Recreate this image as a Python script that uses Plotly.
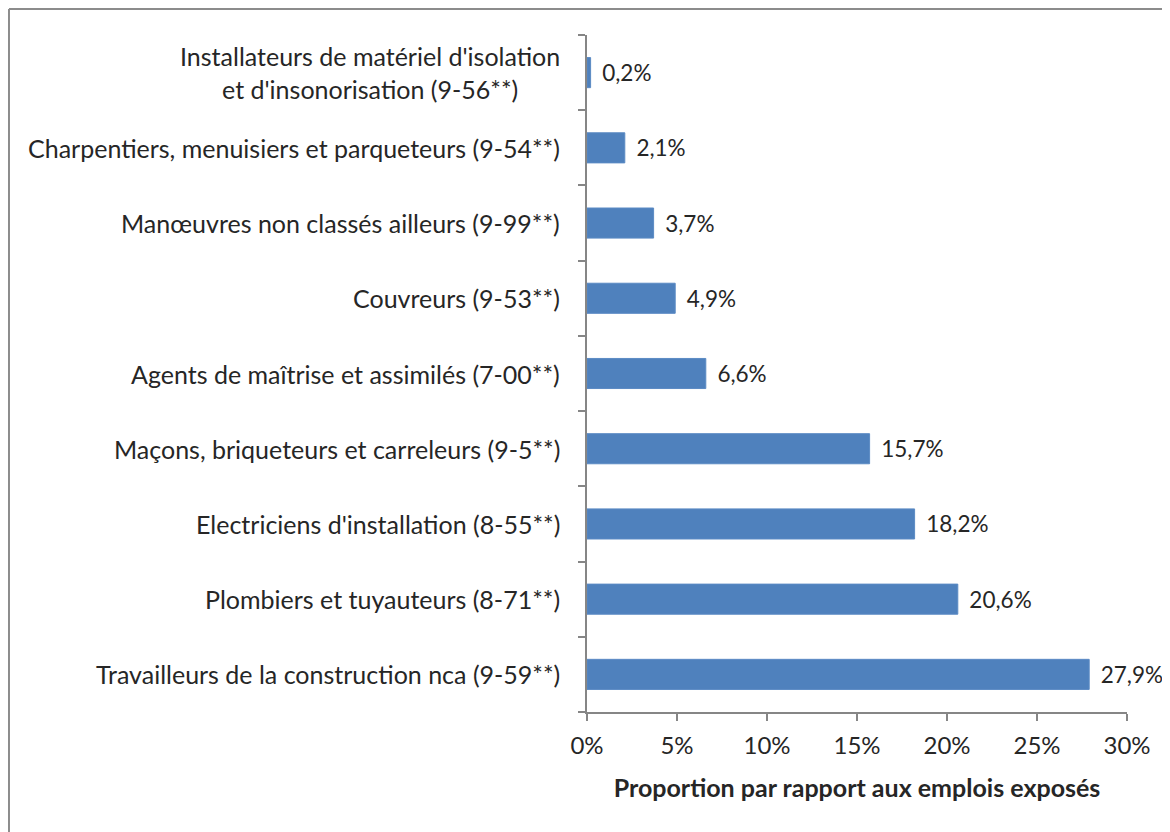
import plotly.graph_objects as go

# categories listed bottom to top, as plotly draws them
categories = [
    "Travailleurs de la construction nca (9-59**)",
    "Plombiers et tuyauteurs (8-71**)",
    "Electriciens d'installation (8-55**)",
    "Maçons, briqueteurs et carreleurs (9-5**)",
    "Agents de maîtrise et assimilés (7-00**)",
    "Couvreurs (9-53**)",
    "Manœuvres non classés ailleurs (9-99**)",
    "Charpentiers, menuisiers et parqueteurs (9-54**)",
    "Installateurs de matériel d'isolation<br>et d'insonorisation (9-56**)",
]
values = [0.279, 0.206, 0.182, 0.157, 0.066, 0.049, 0.037, 0.021, 0.002]
x_ticks = [0, 0.05, 0.10, 0.15, 0.20, 0.25, 0.30]

FONT = "Lato"
TEXT = "#262626"
AXIS = "#868686"

fig = go.Figure(go.Bar(
    x=values,
    y=categories,
    orientation="h",
    width=0.4,
    marker=dict(color="#4F81BD", line=dict(color="#5B8AC4", width=1)),
    texttemplate="\u00a0\u2009%{x:.1%}",
    textposition="outside",
    constraintext="none",
    cliponaxis=False,
    textfont=dict(family=FONT, size=22.5, color=TEXT),
))

# category labels as annotations so two-line labels are centred
for cat in categories:
    fig.add_annotation(x=0, xref="paper", y=cat, yref="y", text=cat,
                       xanchor="right", xshift=-25, align="center",
                       showarrow=False, font=dict(family=FONT, size=25, color=TEXT))

fig.update_xaxes(range=[0, 0.30], tickvals=x_ticks, tickformat=".0%",
                 showline=True, linecolor=AXIS, linewidth=1.5,
                 ticks="outside", ticklen=7, tickcolor=AXIS, tickwidth=1.5,
                 ticklabelstandoff=4,
                 showgrid=False, zeroline=False,
                 tickfont=dict(family=FONT, size=24, color=TEXT),
                 title=dict(text="<b>Proportion par rapport aux emplois exposés</b>",
                            font=dict(family=FONT, size=25, color=TEXT), standoff=22))
fig.update_yaxes(showline=True, linecolor=AXIS, linewidth=1.5,
                 ticks="outside", ticklen=7, tickcolor=AXIS, tickwidth=1.5,
                 tickson="boundaries", showticklabels=False, showgrid=False)

# chart frame (only left and top edges are visible)
fig.add_shape(type="line", xref="paper", yref="paper", x0=-1.0704, x1=-1.0704,
              y0=-0.3, y1=1.0384, line=dict(color="#8C8C8C", width=2))
fig.add_shape(type="line", xref="paper", yref="paper", x0=-1.0704, x1=1.2,
              y0=1.0384, y1=1.0384, line=dict(color="#8C8C8C", width=2))

fig.update_layout(width=1162, height=824, separators=", ",
                  margin=dict(l=579, r=43, t=27, b=120),
                  plot_bgcolor="white", paper_bgcolor="white",
                  showlegend=False)

fig.write_html("out.html")
